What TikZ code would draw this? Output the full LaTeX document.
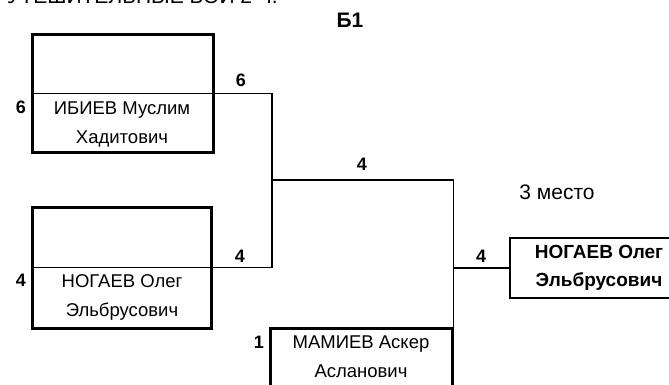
\documentclass[tikz,border=0pt]{standalone}
\usepackage{fontspec}
\setmainfont{Liberation Sans}
\usetikzlibrary{positioning}
\tikzset{
  kart/.style={draw,line width=3pt,inner sep=0pt},
  kartt/.style={draw,line width=1.8pt,inner sep=0pt},
  imya/.style={align=center,font=\fontsize{18.5}{29}\selectfont},
  ochki/.style={font=\fontsize{18}{20}\selectfont\bfseries,inner sep=0pt},
  nadp/.style={font=\fontsize{21}{23}\selectfont,inner sep=0pt},
  liniya/.style={line width=1.5pt},
}
\begin{document}
\begin{tikzpicture}[x=1pt,y=-1pt]
  \useasboundingbox (0,0) rectangle (669,385);
  % zagolovok (obrezan sverkhu)
  \node[nadp,anchor=base east] (zag) at (278,4) {УТЕШИТЕЛЬНЫЕ БОИ 2 Ч.};
  \node[nadp,font=\fontsize{21}{23}\selectfont\bfseries] (gr) at (350,20) {Б1};
  % kartochki
  \node[kart,minimum width=181pt,minimum height=117pt] (b1) at (122.5,93.5) {};
  \node[kart,minimum width=179pt,minimum height=121pt] (b2) at (121.5,267.5) {};
  \node[kart,minimum width=182pt,minimum height=92pt] (b3) at (361,374) {};
  \node[kartt,minimum width=178pt,minimum height=60pt] (b4) at (599,268) {};
  \draw[liniya] (b1.west) -- (b1.east);
  \draw[liniya] (b2.west) -- (b2.east);
  % imena
  \node[imya] (n1) at (122,124) {ИБИЕВ Муслим\\Хадитович};
  \node[imya] (n2) at (122,297) {НОГАЕВ Олег\\Эльбрусович};
  \node[imya] (n3) at (361,357) {МАМИЕВ Аскер\\Асланович};
  \node[imya,font=\fontsize{19}{28}\selectfont\bfseries] (n4) at (b4.center) {НОГАЕВ Олег\\Эльбрусович};
  % setka
  \coordinate (vm) at (272,180);
  \draw[liniya] (b1.east) -| (vm) |- (b2.east);
  \draw[liniya] (vm) -| (b3.north east);
  \draw[liniya] (b4.west) -- (b4.west -| b3.east);
  % ochki
  \node[ochki] (s1l) at (21,107) {6};
  \node[ochki] (s1r) at (241,80) {6};
  \node[ochki] (s2r) at (240,256) {4};
  \node[ochki] (s2l) at (21,280) {4};
  \node[ochki] (sm) at (362,164) {4};
  \node[ochki] (s4) at (481,256) {4};
  \node[ochki] (s3) at (259,342) {1};
  \node[nadp] (mesto) at (557,192) {3 место};
\end{tikzpicture}
\end{document}
